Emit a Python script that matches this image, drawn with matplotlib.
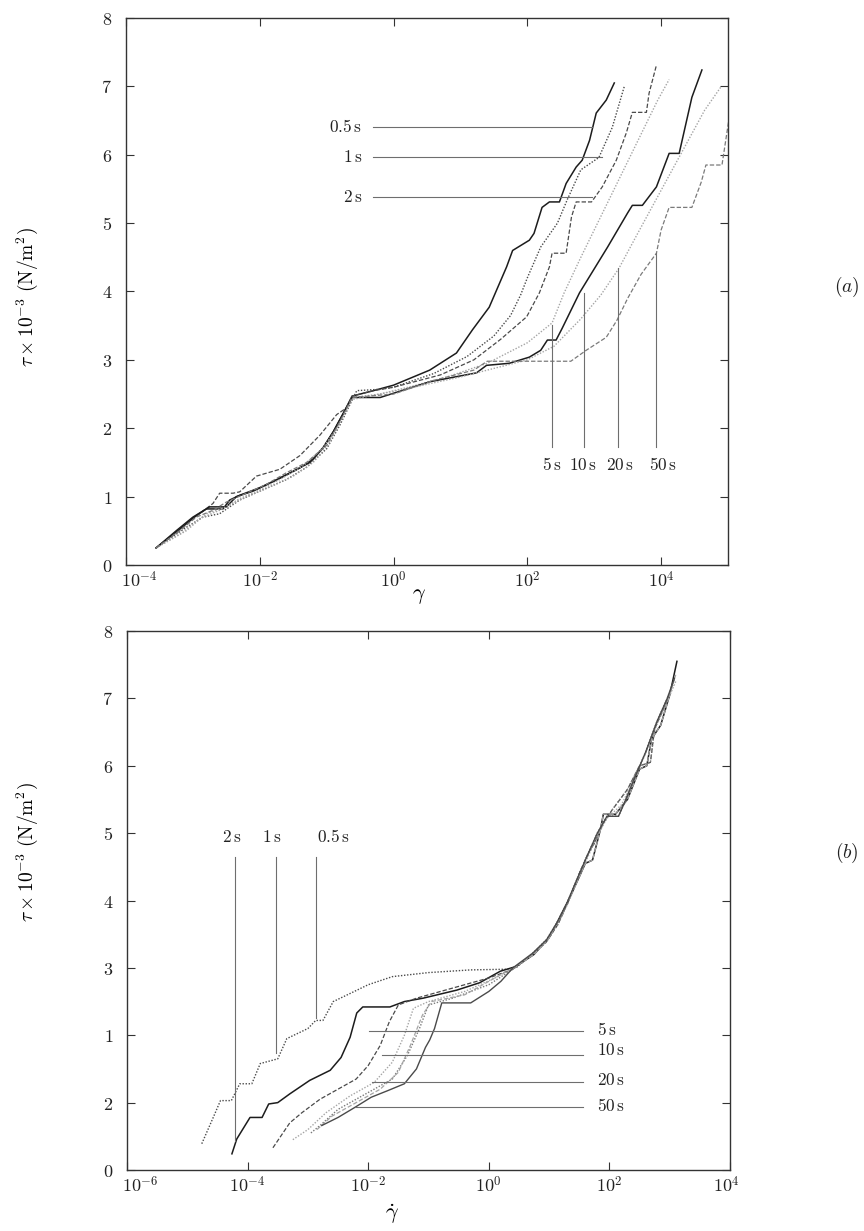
import matplotlib
matplotlib.use("Agg")
import matplotlib.pyplot as plt
import numpy as np
from matplotlib.ticker import FixedLocator, NullLocator
from matplotlib.transforms import ScaledTranslation

plt.rcParams['mathtext.fontset'] = 'cm'
plt.rcParams['font.family'] = 'serif'
plt.rcParams['font.serif'] = ['DejaVu Serif']

# ---------------------------------------------------------------- data
# relaxation times of the runs
times = ["0.5", "1", "2", "5", "10", "20", "50"]

# (a) shear stress vs strain: log10(gamma), tau x 1e-3
a_lg_05 = [-3.55, -3.2, -2.95, -2.8, -2.55, -2.45, -2.3, -2.0, -1.7, -1.4, -1.2, -1.05, -0.9, -0.75, -0.62,
           -0.3, 0.0, 0.54, 0.94, 1.18, 1.43, 1.54, 1.69, 1.78, 2.03, 2.1, 2.22, 2.33, 2.48, 2.58, 2.73,
           2.82, 2.93, 3.03, 3.18, 3.3]
a_tau_05 = [0.25, 0.52, 0.72, 0.82, 0.82, 0.95, 1.02, 1.13, 1.27, 1.42, 1.55, 1.72, 1.95, 2.22, 2.47,
            2.55, 2.63, 2.85, 3.1, 3.44, 3.77, 4.02, 4.36, 4.6, 4.75, 4.85, 5.23, 5.31, 5.31, 5.58, 5.82,
            5.92, 6.21, 6.61, 6.8, 7.05]

a_lg_1 = [-3.55, -3.1, -2.85, -2.6, -2.3, -2.0, -1.6, -1.3, -1.0, -0.8, -0.65, -0.55, -0.2, 0.0, 0.6, 1.1,
          1.5, 1.75, 1.9, 2.0, 2.2, 2.45, 2.6, 2.8, 3.07, 3.27, 3.45]
a_tau_1 = [0.25, 0.55, 0.7, 0.75, 0.95, 1.08, 1.25, 1.43, 1.7, 2.05, 2.35, 2.55, 2.57, 2.6, 2.8, 3.05,
           3.35, 3.65, 3.95, 4.2, 4.65, 5.0, 5.35, 5.78, 5.96, 6.4, 7.0]

a_lg_2 = [-3.55, -3.2, -2.9, -2.7, -2.6, -2.4, -2.3, -2.05, -1.7, -1.4, -1.1, -0.85, -0.7, -0.62, -0.3,
          0.0, 0.7, 1.2, 1.6, 1.99, 2.18, 2.33, 2.37, 2.58, 2.66, 2.73, 2.96, 3.12, 3.33, 3.48, 3.57,
          3.78, 3.82, 3.93]
a_tau_2 = [0.25, 0.5, 0.75, 0.9, 1.05, 1.05, 1.07, 1.3, 1.4, 1.6, 1.9, 2.2, 2.3, 2.47, 2.55,
           2.6, 2.78, 3.0, 3.3, 3.63, 3.98, 4.36, 4.56, 4.56, 5.09, 5.31, 5.31, 5.53, 5.92, 6.32, 6.62,
           6.62, 6.9, 7.31]

a_lg_5 = [-3.55, -3.1, -2.8, -2.5, -2.2, -1.9, -1.5, -1.2, -0.95, -0.78, -0.62, -0.2, 0.3, 0.8, 1.4, 2.0,
          2.37, 2.55, 2.8, 3.0, 3.25, 3.5, 3.75, 3.95, 4.12]
a_tau_5 = [0.25, 0.5, 0.75, 0.85, 1.0, 1.12, 1.3, 1.5, 1.8, 2.15, 2.45, 2.5, 2.62, 2.75, 2.95, 3.25,
           3.54, 3.98, 4.5, 4.9, 5.4, 5.9, 6.4, 6.8, 7.1]

a_lg_10 = [-3.55, -3.25, -3.0, -2.75, -2.5, -2.35, -2.1, -1.8, -1.5, -1.25, -1.05, -0.9, -0.75, -0.62,
           -0.2, 0.54, 1.24, 1.39, 1.73, 2.03, 2.2, 2.3, 2.43, 2.52, 2.78, 3.2, 3.5, 3.57, 3.72, 3.93,
           4.12, 4.27, 4.46, 4.61]
a_tau_10 = [0.25, 0.5, 0.7, 0.85, 0.85, 1.0, 1.08, 1.22, 1.37, 1.5, 1.72, 1.95, 2.22, 2.45,
            2.45, 2.68, 2.81, 2.92, 2.95, 3.04, 3.14, 3.29, 3.29, 3.46, 3.98, 4.65, 5.15, 5.26, 5.26, 5.53,
            6.02, 6.02, 6.84, 7.24]

a_lg_20 = [-3.55, -3.15, -2.9, -2.6, -2.3, -2.0, -1.7, -1.35, -1.05, -0.85, -0.62, 0.3, 1.0, 1.6, 2.0,
           2.4, 2.8, 3.1, 3.37, 3.65, 3.9, 4.15, 4.4, 4.65, 4.9]
a_tau_20 = [0.25, 0.48, 0.68, 0.8, 0.97, 1.1, 1.25, 1.45, 1.72, 2.0, 2.42, 2.6, 2.75, 2.9, 3.0,
            3.2, 3.6, 3.95, 4.34, 4.85, 5.3, 5.75, 6.2, 6.65, 7.0]

a_lg_50 = [-3.55, -3.2, -2.95, -2.7, -2.5, -2.2, -1.9, -1.6, -1.3, -1.0, -0.8, -0.62, 0.0, 0.6, 1.2, 1.4,
           2.65, 2.88, 3.18, 3.34, 3.5, 3.7, 3.93, 4.0, 4.12, 4.46, 4.6, 4.67, 4.91, 5.05]
a_tau_50 = [0.25, 0.5, 0.7, 0.8, 0.92, 1.05, 1.18, 1.35, 1.5, 1.75, 2.1, 2.45, 2.5, 2.7, 2.85, 2.98,
            2.98, 3.14, 3.33, 3.58, 3.9, 4.25, 4.56, 4.9, 5.23, 5.23, 5.6, 5.85, 5.85, 6.75]

# (b) shear stress vs strain rate: log10(gamma_dot), tau x 1e-3
b_lg_50 = [-4.76, -4.57, -4.45, -4.27, -4.13, -3.93, -3.79, -3.5, -3.35, -3.0, -2.87, -2.75, -2.58, -2.3,
           -2.0, -1.6, -1.0, -0.3, 0.3, 0.45, 0.73, 0.96, 1.13, 1.3, 1.46, 1.63, 1.8, 1.96, 2.15, 2.25,
           2.39, 2.6, 2.79, 2.96, 3.08]
b_tau_50 = [0.39, 0.78, 1.03, 1.03, 1.28, 1.28, 1.58, 1.65, 1.95, 2.1, 2.22, 2.22, 2.5, 2.62,
            2.75, 2.87, 2.93, 2.97, 2.98, 3.0, 3.22, 3.42, 3.67, 3.97, 4.31, 4.66, 5.0, 5.25, 5.25, 5.45,
            5.76, 6.2, 6.66, 7.0, 7.3]

b_lg_20 = [-4.26, -4.18, -3.96, -3.76, -3.65, -3.5, -3.3, -2.97, -2.63, -2.45, -2.3, -2.19, -2.09, -1.64,
           -1.4, -1.09, -0.53, -0.15, 0.19, 0.45, 0.75, 1.0, 1.15, 1.32, 1.5, 1.6, 1.72, 1.85, 1.9, 2.1,
           2.3, 2.5, 2.62, 2.7, 2.85, 3.0, 3.12]
b_tau_20 = [0.24, 0.46, 0.78, 0.78, 0.98, 1.0, 1.13, 1.33, 1.48, 1.67, 1.97, 2.33, 2.42, 2.42,
            2.5, 2.55, 2.67, 2.78, 2.95, 3.02, 3.2, 3.45, 3.7, 4.0, 4.35, 4.55, 4.6, 5.05, 5.28, 5.28,
            5.5, 5.95, 6.0, 6.4, 6.6, 7.05, 7.55]

b_lg_10 = [-3.58, -3.3, -3.1, -2.8, -2.5, -2.2, -2.0, -1.8, -1.65, -1.5, -1.2, -0.6, 0.0, 0.4, 0.7, 0.95,
           1.15, 1.35, 1.5, 1.65, 1.75, 1.9, 2.05, 2.3, 2.5, 2.68, 2.75, 2.9, 3.05]
b_tau_10 = [0.33, 0.7, 0.85, 1.05, 1.2, 1.35, 1.55, 1.85, 2.2, 2.45, 2.55, 2.7, 2.85, 2.98, 3.18, 3.38,
            3.65, 4.05, 4.4, 4.7, 4.85, 5.15, 5.35, 5.65, 6.0, 6.05, 6.55, 6.85, 7.2]

b_lg_5 = [-3.25, -3.0, -2.7, -2.3, -1.9, -1.6, -1.4, -1.25, -1.0, -0.4, 0.1, 0.42, 0.72, 0.97, 1.14,
          1.31, 1.47, 1.64, 1.81, 1.96, 2.2, 2.4, 2.6, 2.8, 2.97, 3.1]
b_tau_5 = [0.45, 0.6, 0.85, 1.1, 1.3, 1.6, 2.0, 2.4, 2.5, 2.65, 2.85, 3.0, 3.2, 3.4, 3.65,
           3.95, 4.3, 4.64, 4.98, 5.22, 5.42, 5.78, 6.18, 6.64, 6.98, 7.25]

b_lg_2 = [-2.95, -2.8, -2.5, -2.0, -1.6, -1.35, -1.15, -1.0, -0.6, 0.0, 0.4, 0.7, 0.95, 1.15, 1.35,
          1.5, 1.65, 1.75, 1.9, 2.05, 2.3, 2.5, 2.68, 2.75, 2.9, 3.05]
b_tau_2 = [0.55, 0.66, 0.9, 1.15, 1.35, 1.7, 2.1, 2.45, 2.55, 2.75, 2.98, 3.18, 3.38, 3.65, 4.05,
           4.4, 4.7, 4.85, 5.15, 5.35, 5.65, 6.0, 6.05, 6.55, 6.85, 7.2]

b_lg_1 = [-2.85, -2.6, -2.2, -1.8, -1.5, -1.3, -1.1, -0.95, -0.4, 0.1, 0.45, 0.75, 1.0, 1.15, 1.32,
          1.5, 1.6, 1.72, 1.85, 1.9, 2.1, 2.3, 2.5, 2.62, 2.7, 2.85, 3.0, 3.1]
b_tau_1 = [0.6, 0.8, 1.0, 1.2, 1.45, 1.85, 2.3, 2.5, 2.6, 2.85, 3.02, 3.2, 3.45, 3.7, 4.0,
           4.35, 4.55, 4.6, 5.05, 5.28, 5.28, 5.5, 5.95, 6.0, 6.4, 6.6, 7.05, 7.35]

b_lg_05 = [-2.77, -2.5, -2.22, -1.95, -1.67, -1.4, -1.2, -1.05, -0.98, -0.9, -0.78, -0.6, -0.3, 0.0, 0.2,
           0.4, 0.73, 0.96, 1.13, 1.3, 1.46, 1.63, 1.8, 1.96, 2.15, 2.25, 2.39, 2.6, 2.79, 2.96, 3.08]
b_tau_05 = [0.66, 0.78, 0.93, 1.08, 1.18, 1.28, 1.5, 1.82, 1.93, 2.1, 2.48, 2.48, 2.48, 2.65, 2.8,
            3.0, 3.22, 3.42, 3.67, 3.97, 4.31, 4.66, 5.0, 5.25, 5.25, 5.45, 5.76, 6.2, 6.66, 7.0, 7.3]

# label leaders, panel (a)
a_left_labels = ["0.5", "1", "2"]
a_left_tau = [6.4, 5.96, 5.38]
a_left_end = [2.97, 3.12, 2.96]
a_bot_labels = ["5", "10", "20", "50"]
a_bot_lg = [2.37, 2.85, 3.36, 3.93]
a_bot_top = [3.51, 3.98, 4.34, 4.56]
a_bot_text_lg = [2.37, 2.84, 3.39, 4.03]

# label leaders, panel (b)
b_top_labels = ["2", "1", "0.5"]
b_top_lg = [-4.21, -3.53, -2.87]
b_top_end = [0.43, 1.73, 2.25]
b_top_text_lg = [-4.26, -3.60, -2.58]
b_right_labels = ["5", "10", "20", "50"]
b_right_tau = [2.07, 1.70, 1.31, 0.93]
b_right_start = [-1.99, -1.77, -1.94, -2.22]
b_right_text_tau = [2.07, 1.78, 1.33, 0.94]

# y tick labels as printed on each panel
a_yticklabels = ["0", "1", "2", "3", "4", "5", "6", "7", "8"]
b_yticklabels = ["0", "2", "1", "3", "4", "5", "6", "7", "8"]

# ---------------------------------------------------------------- styles
BLACK = "#1c1c1c"
DARK = "#4a4a4a"
MID = "#7a7a7a"
LIGHT = "#a5a5a5"
LEAD = "#6e6e6e"
DOT = (0, (1, 1.2))
DASH = (0, (3.5, 1.6))

a_series = [
    (a_lg_05, a_tau_05, BLACK, "-", 1.1),
    (a_lg_1, a_tau_1, DARK, DOT, 1.0),
    (a_lg_2, a_tau_2, DARK, DASH, 0.9),
    (a_lg_5, a_tau_5, LIGHT, DOT, 1.0),
    (a_lg_10, a_tau_10, BLACK, "-", 1.1),
    (a_lg_20, a_tau_20, LIGHT, DOT, 1.0),
    (a_lg_50, a_tau_50, MID, DASH, 0.9),
]
b_series = [
    (b_lg_50, b_tau_50, DARK, DOT, 1.0),
    (b_lg_20, b_tau_20, BLACK, "-", 1.1),
    (b_lg_10, b_tau_10, DARK, DASH, 0.9),
    (b_lg_5, b_tau_5, LIGHT, DOT, 1.0),
    (b_lg_2, b_tau_2, MID, DOT, 1.0),
    (b_lg_1, b_tau_1, LIGHT, DASH, 0.9),
    (b_lg_05, b_tau_05, DARK, "-", 1.0),
]


def sec(s):
    return r"$%s\,\mathrm{s}$" % s


def style_axes(ax, xlim, xticks, yticklabels):
    ax.set_xscale("log")
    ax.set_xlim(*xlim)
    ax.set_ylim(0, 8)
    ax.xaxis.set_major_locator(FixedLocator(xticks))
    ax.xaxis.set_minor_locator(NullLocator())
    ax.set_xticklabels([r"$10^{%d}$" % int(round(np.log10(t))) for t in xticks])
    ax.set_yticks(range(9))
    ax.set_yticklabels(["$%s$" % s for s in yticklabels])
    ax.tick_params(which="both", direction="in", top=True, right=True,
                   length=6, width=0.8, colors="#333333", labelcolor="#222222")
    ax.tick_params(axis="x", labelsize=13, pad=4)
    ax.tick_params(axis="y", labelsize=13, pad=10)
    for sp in ax.spines.values():
        sp.set_color("#333333")
        sp.set_linewidth(1.0)


def nudge_xlabel(fig, ax, index, dx_px):
    lbl = ax.get_xticklabels()[index]
    lbl.set_transform(lbl.get_transform() + ScaledTranslation(dx_px / fig.dpi, 0, fig.dpi_scale_trans))


fig = plt.figure(figsize=(8.64, 12.31), dpi=100)

# ---------------------------------------------------------------- panel (a)
ax_a = fig.add_axes([126 / 864, 666 / 1231, 602 / 864, 547 / 1231])
style_axes(ax_a, (1e-4, 1e5), [1e-4, 1e-2, 1e0, 1e2, 1e4], a_yticklabels)
for lg, tau, c, ls, lw in a_series:
    ax_a.plot(10.0 ** np.array(lg), tau, color=c, linestyle=ls, linewidth=lw)

for lab, tau, xend in zip(a_left_labels, a_left_tau, a_left_end):
    ax_a.plot([10 ** -0.31, 10 ** xend], [tau, tau], color=LEAD, linewidth=0.8)
    ax_a.text(10 ** -0.47, tau, sec(lab), ha="right", va="center", fontsize=12.5, color="#222222")
for lab, x, top, xt in zip(a_bot_labels, a_bot_lg, a_bot_top, a_bot_text_lg):
    ax_a.plot([10 ** x, 10 ** x], [1.72, top], color=LEAD, linewidth=0.8)
    ax_a.text(10 ** xt, 1.46, sec(lab), ha="center", va="center", fontsize=12.5, color="#222222")

ax_a.set_xlabel(r"$\gamma$", fontsize=16)
ax_a.xaxis.set_label_coords(0.487, -0.035)
ax_a.set_ylabel(r"$\tau \times 10^{-3}\ (\mathrm{N/m^2})$", fontsize=14)
ax_a.yaxis.set_label_coords(-0.143, 0.49)
nudge_xlabel(fig, ax_a, 0, 13)

# ---------------------------------------------------------------- panel (b)
ax_b = fig.add_axes([127 / 864, 61 / 1231, 603 / 864, 539 / 1231])
style_axes(ax_b, (1e-6, 1e4), [1e-6, 1e-4, 1e-2, 1e0, 1e2, 1e4], b_yticklabels)
for lg, tau, c, ls, lw in b_series:
    ax_b.plot(10.0 ** np.array(lg), tau, color=c, linestyle=ls, linewidth=lw)

for lab, x, yend, xt in zip(b_top_labels, b_top_lg, b_top_end, b_top_text_lg):
    ax_b.plot([10 ** x, 10 ** x], [4.64, yend], color=LEAD, linewidth=0.8)
    ax_b.text(10 ** xt, 4.94, sec(lab), ha="center", va="center", fontsize=12.5, color="#222222")
for lab, tau, xs, tt in zip(b_right_labels, b_right_tau, b_right_start, b_right_text_tau):
    ax_b.plot([10 ** xs, 10 ** 1.56], [tau, tau], color=LEAD, linewidth=0.8)
    ax_b.text(10 ** 1.79, tt, sec(lab), ha="left", va="center", fontsize=12.5, color="#222222")

ax_b.set_xlabel(r"$\dot{\gamma}$", fontsize=16)
ax_b.xaxis.set_label_coords(0.44, -0.06)
ax_b.set_ylabel(r"$\tau \times 10^{-3}\ (\mathrm{N/m^2})$", fontsize=14)
ax_b.yaxis.set_label_coords(-0.144, 0.59)
nudge_xlabel(fig, ax_b, 0, 13)
nudge_xlabel(fig, ax_b, 5, -4)

fig.text(847 / 864, 1 - 287 / 1231, r"$(a)$", ha="center", va="center", fontsize=14, color="#222222")
fig.text(847 / 864, 1 - 853 / 1231, r"$(b)$", ha="center", va="center", fontsize=14, color="#222222")

fig.savefig("out.png", dpi=100, facecolor="white")
